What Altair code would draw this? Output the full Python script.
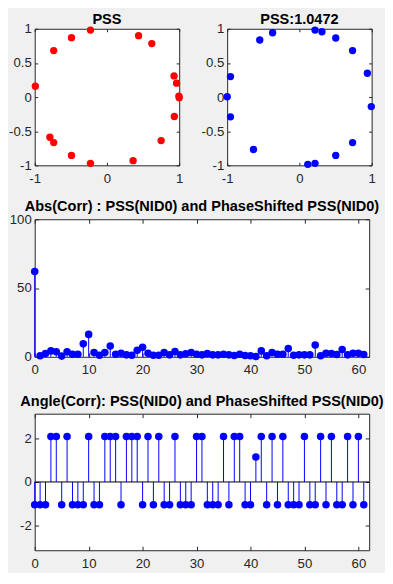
import altair as alt
import pandas as pd

# ---- data ----
pss_re = [-0.228, -0.491, -0.737, -0.991, -0.790, -0.737, -0.491, -0.228, 0.362,
          0.750, 0.933, 0.996, 1.000, 0.964, 0.929, 0.621, 0.438]
pss_im = [0.981, 0.870, 0.681, 0.159, -0.589, -0.667, -0.855, -0.971, -0.932,
          -0.638, -0.285, 0.014, -0.010, 0.203, 0.309, 0.783, 0.899]

shift_re = [0.216, 0.312, 0.503, 0.736, 0.941, 0.995, 0.736, 0.503, 0.216,
            0.116, -0.636, -0.954, -1.000, -0.954, -0.549, -0.371]
shift_im = [0.981, 0.957, 0.865, 0.681, 0.348, -0.140, -0.667, -0.855, -0.971,
            -0.986, -0.768, -0.290, 0.005, 0.300, 0.836, 0.942]

lags = list(range(62))
abs_corr = [62, 0.7, 2.4, 4.3, 3.6, 0.5, 3.6, 1.9, 1.9, 9.4,
            16.3, 3.1, 1.2, 3.1, 7.9, 1.9, 2.6, 1.4, 1.2, 4.8,
            7.0, 2.6, 1.2, 1.2, 3.1, 1.4, 3.8, 1.4, 2.2, 3.1,
            1.9, 1.4, 2.4, 1.4, 1.4, 1.9, 1.4, 1.0, 1.9, 1.0,
            0.7, 0.2, 4.3, 0.7, 3.1, 1.9, 1.9, 6.0, 1.2, 1.4,
            1.4, 1.4, 8.6, 0.7, 2.6, 2.4, 1.7, 5.3, 1.4, 2.6,
            2.6, 1.7]
angle_corr = [-1.047, -1.047, -1.047, 2.094, 2.094, -1.047, 2.094, -1.047, -1.047, -1.047,
              2.094, -1.047, -1.047, 2.094, 2.094, 2.094, -1.047, 2.094, 2.094, 2.094,
              -1.047, 2.094, -1.047, 2.094, -1.047, -1.047, 2.094, -1.047, -1.047, -1.047,
              2.094, 2.094, -1.047, -1.047, -1.047, 2.094, -1.047, 2.094, 2.094, -1.047,
              -1.047, 1.150, 2.094, -1.047, 2.094, -1.047, 2.094, -1.047, -1.047, -1.047,
              2.094, -1.047, -1.047, 2.094, -1.047, 2.094, -1.047, -1.047, 2.094, -1.047,
              2.094, -1.047]
stem_base = [0]

circle_ticks = [-1, 0, 1]
circle_yticks = [-1, -0.5, 0, 0.5, 1]
lag_ticks = [0, 10, 20, 30, 40, 50, 60]
abs_ticks = [0, 50, 100]
angle_ticks = [-2, 0, 2]

# ---- style ----
FONT = "Liberation Sans"
AX = "#262626"
BLUE = "#0000ff"
RED = "#ff0000"
LBL = 13.3
LEFT_EXT = 26.5
LABEL_EXPR = "replace(format(datum.value, '~g'), '\u2212', '-')"


def axis(orient, values, tick, labels=True, pad=0):
    kw = {}
    if orient == "left":
        kw["minExtent"] = LEFT_EXT + tick
    if orient in ("top", "right"):
        kw["minExtent"] = 0
        kw["maxExtent"] = 0
    return alt.Axis(orient=orient, values=values, tickSize=tick, offset=-tick,
                    labels=labels, labelPadding=pad, title=None, domain=False,
                    grid=False, labelFlush=False, labelOverlap=False,
                    labelExpr=LABEL_EXPR, tickColor=AX, tickWidth=1, labelColor=AX,
                    labelFont=FONT, labelFontSize=LBL, **kw)


def title(text, off):
    return alt.TitleParams(text=text, font=FONT, fontSize=14.7, fontWeight="bold",
                           color="black", baseline="alphabetic", offset=off,
                           anchor="middle")


def scatter(re, im, color, ttl):
    df = pd.DataFrame({"re": re, "im": im})
    sc = alt.Scale(domain=[-1, 1], nice=False, zero=False)
    base = alt.Chart(df)
    ghost = base.mark_circle(opacity=0).encode(
        x=alt.X("re:Q", scale=sc, axis=axis("top", circle_ticks, 3, False)),
        y=alt.Y("im:Q", scale=sc, axis=axis("right", circle_yticks, 3, False)),
    )
    pts = base.mark_circle(size=55, color=color, opacity=1).encode(
        x=alt.X("re:Q", scale=sc, axis=axis("bottom", circle_ticks, 3, True, 6)),
        y=alt.Y("im:Q", scale=sc, axis=axis("left", circle_yticks, 3, True, 3.5)),
    )
    return (alt.layer(ghost, pts, title=title(ttl, -16.5))
            .resolve_axis(x="independent", y="independent")
            .properties(width=146, height=138))


def stem(values, ydomain, yticks, ttl, height, with_baseline, off):
    df = pd.DataFrame({"lag": lags, "val": values})
    xs = alt.Scale(domain=[0, 62], nice=False, zero=False)
    ys = alt.Scale(domain=ydomain, nice=False, zero=False)
    base = alt.Chart(df)
    stems = base.mark_rule(color=BLUE, strokeWidth=1).encode(
        x=alt.X("lag:Q", scale=xs, axis=axis("bottom", lag_ticks, 4, True, 6)),
        y=alt.Y("val:Q", scale=ys, axis=axis("left", yticks, 4, True, 3.5)),
        y2=alt.datum(0),
    )
    pts = base.mark_circle(size=58, color=BLUE, opacity=1).encode(
        x=alt.X("lag:Q", scale=xs, axis=axis("top", lag_ticks, 4, False)),
        y=alt.Y("val:Q", scale=ys, axis=axis("right", yticks, 4, False)),
    )
    layers = [stems]
    if with_baseline:
        bl = alt.Chart(pd.DataFrame({"b": stem_base})).mark_rule(
            color="black", strokeWidth=1).encode(
            y=alt.Y("b:Q", scale=ys, axis=None))
        layers.append(bl)
    layers.append(pts)
    return (alt.layer(*layers, title=title(ttl, off))
            .resolve_axis(x="independent", y="independent")
            .properties(width=338, height=height))


pss_chart = scatter(pss_re, pss_im, RED, "PSS")
shift_chart = scatter(shift_re, shift_im, BLUE, "PSS:1.0472")
abs_chart = stem(abs_corr, [0, 100], abs_ticks,
                 "Abs(Corr) : PSS(NID0) and PhaseShifted PSS(NID0)", 139, False, -13)
angle_chart = stem(angle_corr, [-3.1416, 3.1416], angle_ticks,
                   "Angle(Corr): PSS(NID0) and PhaseShifted PSS(NID0)", 138, True, -7)

top = alt.hconcat(pss_chart, shift_chart, spacing=43 - LEFT_EXT)
upper = alt.vconcat(top, abs_chart, spacing=12.5)
chart = (alt.vconcat(upper, angle_chart, spacing=16)
         .properties(padding=0, background="#f0f0f0")
         .configure_view(stroke=AX, strokeWidth=1, fill="white"))

chart.save("out.html", embed_options={"renderer": "svg", "actions": False})
